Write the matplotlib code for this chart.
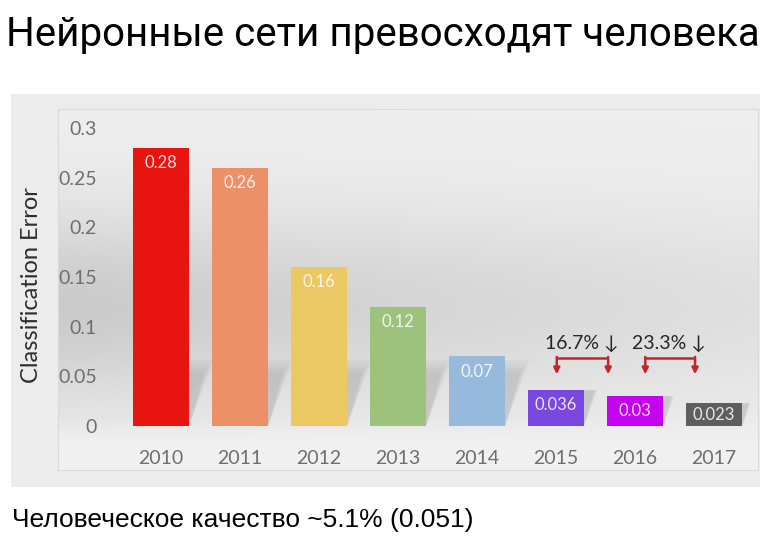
import matplotlib
matplotlib.use("Agg")
import matplotlib.pyplot as plt
from matplotlib.patches import Polygon
import numpy as np

# data
years = ["2010", "2011", "2012", "2013", "2014", "2015", "2016", "2017"]
errors = [0.28, 0.26, 0.16, 0.12, 0.07, 0.036, 0.03, 0.023]
value_labels = ["0.28", "0.26", "0.16", "0.12", "0.07", "0.036", "0.03", "0.023"]
bar_colors = ["#e81410", "#ec9167", "#ebc862", "#9cc27c", "#97badc",
              "#7a48e0", "#c402ef", "#5e5e5e"]
yticks = [0, 0.05, 0.1, 0.15, 0.2, 0.25, 0.3]
ytick_labels = ["0", "0.05", "0.1", "0.15", "0.2", "0.25", "0.3"]
drops = [(5, 6), (6, 7)]  # pairs of bars compared by the red brackets

title = "Нейронные сети превосходят человека"
caption = "Человеческое качество ~5.1% (0.051)"

W, H = 768, 552
fig = plt.figure(figsize=(W / 100, H / 100), dpi=100)
fig.patch.set_facecolor("white")


def px_box(x0, y0, x1, y1):
    """pixel box (top-left origin) -> figure fraction rect"""
    return [x0 / W, 1 - y1 / H, (x1 - x0) / W, (y1 - y0) / H]


# outer light grey panel (drawn as a bare axes so it stays behind)
panel = fig.add_axes(px_box(11, 94, 760, 487))
panel.set_facecolor("#ececec")
panel.set_xticks([])
panel.set_yticks([])
for s in panel.spines.values():
    s.set_visible(False)

# gradient background of the inner chart area
bg = fig.add_axes(px_box(58, 109, 758, 470))
r = np.linspace(0, 1, 240)[:, None]
c = np.linspace(0, 1, 360)[None, :]
dark = 0.14 * np.exp(-((r - 0.55) / 0.27) ** 2) * (1 - 0.6 * c)
val = 0.935 - dark
val = np.where(r > 0.86, val + (0.945 - val) * np.clip((r - 0.86) / 0.08, 0, 1), val)
bg.imshow(np.dstack([val, val, val]), aspect="auto", extent=[0, 1, 0, 1],
          interpolation="bilinear")
bg.set_xticks([])
bg.set_yticks([])
for s in bg.spines.values():
    s.set_color("#dadada")
    s.set_linewidth(0.8)

# main axes
ax = fig.add_axes(px_box(108, 109, 758, 426))
ax.patch.set_alpha(0)
x = np.arange(len(years))
bar_w = 0.71

# soft shadows behind the bars (a few stacked layers fake the blur)
for xi, v in zip(x, errors):
    left, right = xi - bar_w / 2, xi + bar_w / 2
    for k in range(4):
        hs = min(v, 0.066 - 0.004 * k)
        dx = (0.29 - 0.025 * k) * hs / 0.062
        ax.add_patch(Polygon([(left + 0.05, 0), (right, 0), (right + dx, hs), (left + dx, hs)],
                             closed=True, facecolor="#8a8a8a", alpha=0.09,
                             edgecolor="none", zorder=1))

ax.bar(x, errors, width=bar_w, color=bar_colors, zorder=2)

for xi, v, lab in zip(x, errors, value_labels):
    ty = max(v - 0.0152, v / 2)
    ax.text(xi, ty, lab, ha="center", va="center", color="white", alpha=0.85,
            fontsize=12, family=["Lato", "DejaVu Sans"], zorder=3)

# red brackets with percentage drop
red = "#c3262a"
offsets = [(0.01, 0.66, 0.33), (0.13, 0.76, 0.43)]
y_line, y_tip, y_txt = 0.0685, 0.052, 0.0836
for (a, b), (o0, o1, ot) in zip(drops, offsets):
    pct = (errors[a] - errors[b]) / errors[a] * 100
    x0, x1 = a + o0, a + o1
    ax.plot([x0, x1], [y_line, y_line], color=red, lw=1.8, zorder=3,
            solid_capstyle="butt")
    for xx in (x0, x1):
        ax.annotate("", xy=(xx, y_tip), xytext=(xx, y_line + 0.001),
                    arrowprops=dict(arrowstyle="-|>", color=red, lw=1.8,
                                    mutation_scale=9, shrinkA=0, shrinkB=0),
                    zorder=3)
    ax.text(a + ot, y_txt, f"{pct:.1f}% \u2193", ha="center", va="center",
            color="#262626", fontsize=14, family=["Lato", "DejaVu Sans"], zorder=3)

ax.set_xlim(-0.671, 7.557)
ax.set_ylim(0, 0.319)
ax.set_xticks(x)
ax.set_xticklabels(years)
ax.set_yticks(yticks)
ax.set_yticklabels(ytick_labels)
ax.tick_params(length=0, colors="#6e6e6e", labelsize=14)
ax.tick_params(axis="x", pad=17)
ax.tick_params(axis="y", pad=8)
for lab in ax.get_xticklabels() + ax.get_yticklabels():
    lab.set_family(["Lato", "DejaVu Sans"])
for s in ax.spines.values():
    s.set_visible(False)

fig.text(32 / W, 1 - 285 / H, "Classification Error", rotation=90, ha="center",
         va="center", fontsize=17, color="#2e2e2e", family=["Lato", "DejaVu Sans"])

# slide title and caption
fig.text(6 / W, 1 - 35 / H, title, ha="left", va="center", fontsize=29,
         color="black", family=["Roboto", "DejaVu Sans"])
fig.text(12 / W, 1 - 520 / H, caption, ha="left", va="center", fontsize=19,
         color="black", family=["Liberation Sans", "DejaVu Sans"])

fig.savefig("out.png", dpi=100)
